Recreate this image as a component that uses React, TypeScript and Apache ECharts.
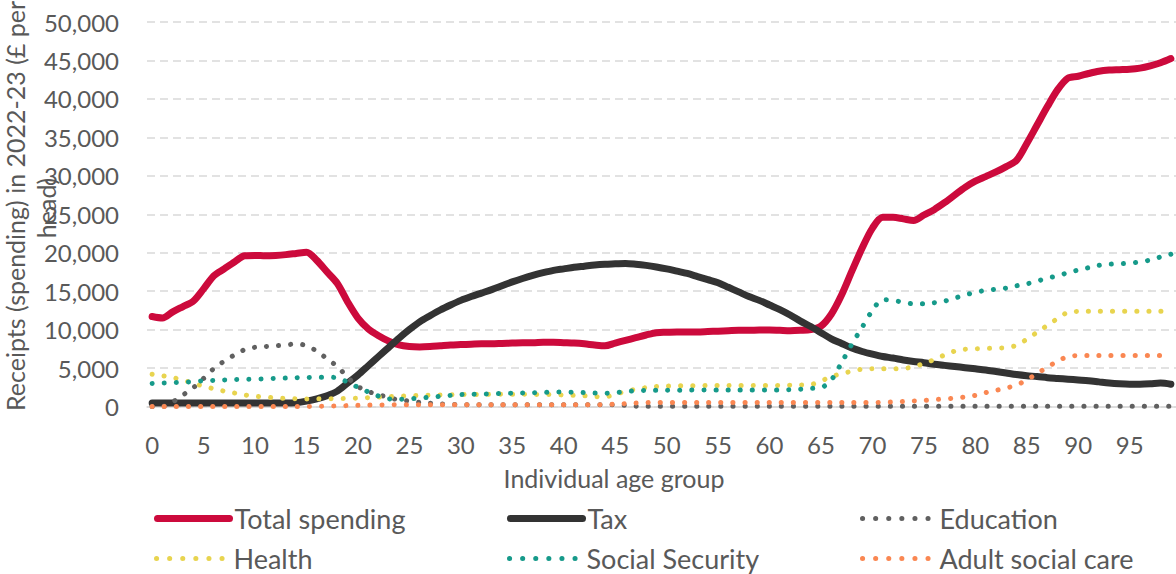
import React, { useEffect, useRef } from "react";
import * as echarts from "echarts";

// Ages 0..99, one category per single year of age
const ages: string[] = Array.from({ length: 100 }, (_, i) => String(i));

const totalSpending = [
  11700, 11500, 12300, 13000, 13700, 15300, 17000, 17900, 18800, 19600,
  19650, 19600, 19650, 19750, 19900, 20050, 19000, 17500, 16000, 13600,
  11500, 10100, 9200, 8500, 8000, 7800, 7750, 7800, 7900, 8000,
  8050, 8100, 8150, 8150, 8200, 8250, 8300, 8300, 8350, 8350,
  8300, 8250, 8150, 8000, 7900, 8250, 8600, 8950, 9300, 9600,
  9650, 9700, 9700, 9700, 9750, 9800, 9850, 9900, 9900, 9950,
  9950, 9900, 9850, 9900, 10000, 10450, 12000, 14500, 17600, 20600,
  23200, 24600, 24600, 24400, 24200, 24900, 25600, 26500, 27500, 28500,
  29300, 29900, 30500, 31200, 32000, 34200, 36600, 39000, 41200, 42700,
  42950, 43300, 43600, 43750, 43800, 43850, 44000, 44300, 44700, 45250,
];

const tax = [
  450, 450, 450, 450, 450, 450, 450, 450, 450, 450,
  450, 450, 450, 450, 500, 700, 1000, 1400, 2000, 3050,
  4100, 5300, 6500, 7700, 8900, 10000, 11000, 11800, 12550, 13200,
  13800, 14300, 14750, 15200, 15700, 16200, 16650, 17050, 17400, 17700,
  17900, 18100, 18250, 18400, 18500, 18550, 18600, 18500, 18350, 18150,
  17900, 17600, 17300, 16900, 16500, 16100, 15500, 14900, 14300, 13800,
  13200, 12600, 11900, 11100, 10400, 9600, 8800, 8200, 7600, 7150,
  6800, 6500, 6300, 6050, 5850, 5700, 5500, 5350, 5200, 5050,
  4900, 4750, 4550, 4350, 4150, 4000, 3900, 3750, 3650, 3550,
  3450, 3350, 3200, 3050, 2950, 2900, 2900, 2950, 3050, 2900,
];

const education = [
  0, 0, 600, 1500, 2450, 3650, 4950, 5900, 6700, 7400,
  7700, 7800, 7900, 8000, 8150, 7900, 7200, 6200, 5200, 3800,
  2600, 1950, 1550, 1150, 850, 700, 550, 420, 330, 280,
  230, 230, 230, 230, 230, 230, 230, 230, 230, 230,
  230, 230, 230, 230, 230, 200, 150, 50, 30, 30,
  30, 30, 30, 30, 30, 30, 30, 30, 30, 30,
  30, 30, 30, 30, 30, 30, 30, 30, 30, 30,
  30, 30, 30, 30, 30, 30, 30, 30, 30, 30,
  30, 30, 30, 30, 30, 30, 30, 30, 30, 30,
  30, 30, 30, 30, 30, 30, 30, 30, 30, 30,
];

const health = [
  4200, 4000, 3750, 3450, 3000, 2650, 2300, 2000, 1750, 1500,
  1320, 1230, 1100, 1050, 1000, 980, 990, 1010, 1020, 1040,
  1080, 1150, 1220, 1280, 1330, 1390, 1430, 1470, 1500, 1520,
  1550, 1560, 1570, 1580, 1590, 1590, 1590, 1580, 1560, 1540,
  1500, 1450, 1400, 1300, 1250, 1600, 1950, 2250, 2450, 2600,
  2650, 2700, 2700, 2700, 2720, 2720, 2720, 2730, 2730, 2740,
  2740, 2750, 2780, 2800, 2850, 3300, 3900, 4250, 4600, 4850,
  4900, 4900, 4900, 4950, 5150, 5600, 6100, 6700, 7200, 7450,
  7500, 7550, 7600, 7650, 7950, 8750, 9650, 10550, 11450, 12250,
  12370, 12370, 12370, 12370, 12370, 12370, 12370, 12370, 12370, 12370,
];

const socialSecurity = [
  3000, 3050, 3100, 3150, 3250, 3350, 3400, 3450, 3500, 3530,
  3560, 3600, 3650, 3700, 3750, 3780, 3800, 3800, 3750, 3150,
  2500, 1900, 1350, 1000, 940, 1000, 1100, 1200, 1330, 1450,
  1550, 1600, 1620, 1650, 1700, 1720, 1750, 1780, 1820, 1870,
  1880, 1850, 1800, 1750, 1720, 1800, 1930, 2050, 2100, 2100,
  2100, 2120, 2130, 2140, 2150, 2150, 2150, 2150, 2150, 2150,
  2150, 2150, 2180, 2250, 2350, 2450, 3450, 5700, 8100, 10300,
  12500, 13900, 13800, 13550, 13350, 13350, 13500, 13700, 14100, 14500,
  14850, 15100, 15250, 15400, 15700, 15950, 16300, 16700, 17000, 17400,
  17750, 18050, 18350, 18500, 18550, 18650, 18800, 19050, 19450, 19800,
];

const adultSocialCare = [
  0, 0, 0, 0, 0, 0, 0, 0, 0, 0,
  0, 0, 0, 0, 0, 0, 20, 50, 80, 120,
  150, 180, 200, 220, 230, 230, 230, 230, 230, 230,
  230, 230, 230, 230, 230, 230, 230, 230, 230, 230,
  230, 230, 230, 230, 250, 300, 380, 450, 500, 520,
  520, 520, 520, 520, 520, 520, 520, 520, 520, 520,
  520, 520, 520, 520, 520, 520, 520, 520, 520, 520,
  520, 550, 590, 650, 720, 790, 900, 980, 1100, 1250,
  1450, 1800, 2100, 2400, 2800, 3450, 4300, 5100, 5900, 6500,
  6620, 6620, 6620, 6620, 6620, 6620, 6620, 6620, 6620, 6620,
];

const yTicks = { min: 0, max: 50000, interval: 5000 };

const FONT = "Lato, 'Open Sans', sans-serif";
const TEXT = "#595959";

type Line = {
  name: string;
  data: number[];
  color: string;
  dotted: boolean;
};

const lines: Line[] = [
  { name: "Total spending", data: totalSpending, color: "#CC0A3C", dotted: false },
  { name: "Tax", data: tax, color: "#333333", dotted: false },
  { name: "Education", data: education, color: "#606060", dotted: true },
  { name: "Health", data: health, color: "#E8D44F", dotted: true },
  { name: "Social Security", data: socialSecurity, color: "#169A8A", dotted: true },
  { name: "Adult social care", data: adultSocialCare, color: "#FA8752", dotted: true },
];

const legendSpots = [
  { left: 154, top: 505 },
  { left: 507, top: 505 },
  { left: 860, top: 505 },
  { left: 154, top: 545 },
  { left: 507, top: 545 },
  { left: 860, top: 545 },
];

function lineStyleFor(l: Line, gap = 12) {
  return l.dotted
    ? { color: l.color, width: 5, type: [0.1, gap], cap: "round" as const }
    : { color: l.color, width: 7, type: "solid" as const, cap: "round" as const, join: "round" as const };
}

export default function App() {
  const ref = useRef<HTMLDivElement>(null);

  useEffect(() => {
    if (!ref.current) return;
    const chart = echarts.init(ref.current, undefined, { renderer: "svg" });

    const option: echarts.EChartsCoreOption = {
      animation: false,
      backgroundColor: "#ffffff",
      grid: { left: 147, right: 0, top: 22, bottom: 167.5, containLabel: false },
      xAxis: {
        type: "category",
        data: ages,
        boundaryGap: true,
        axisTick: { show: false },
        axisLine: { lineStyle: { color: "#D9D9D9", width: 1.5 } },
        axisLabel: {
          interval: 4,
          margin: 26,
          color: TEXT,
          fontSize: 24,
          fontFamily: FONT,
        },
        splitLine: { show: false },
      },
      yAxis: {
        type: "value",
        min: yTicks.min,
        max: yTicks.max,
        interval: yTicks.interval,
        axisLine: { show: false },
        axisTick: { show: false },
        axisLabel: {
          margin: 28,
          color: TEXT,
          fontSize: 24,
          fontFamily: FONT,
          formatter: (v: number) => v.toLocaleString("en-US"),
        },
        splitLine: {
          lineStyle: { color: "#D9D9D9", width: 1.5, type: [8, 5] },
        },
      },
      legend: lines.map((l, i) => ({
        data: [l.name],
        left: legendSpots[i].left,
        top: legendSpots[i].top,
        orient: "horizontal",
        padding: 0,
        itemWidth: 72,
        itemHeight: 14,
        itemGap: 0,
        selectedMode: false,
        itemStyle: { opacity: 0, color: "transparent", borderWidth: 0 },
        lineStyle: lineStyleFor(l, 13),
        textStyle: {
          color: TEXT,
          fontSize: 27,
          lineHeight: 27,
          fontFamily: FONT,
          padding: [0, 0, 0, 0],
        },
      })),
      graphic: [
        {
          type: "text",
          x: 15,
          y: 206,
          rotation: Math.PI / 2,
          style: {
            text: "Receipts (spending) in 2022-23 (£ per",
            fill: TEXT,
            font: `25px ${FONT}`,
            textAlign: "center",
            textVerticalAlign: "middle",
          },
        },
        {
          type: "text",
          x: 46,
          y: 208,
          rotation: Math.PI / 2,
          style: {
            text: "head)",
            fill: TEXT,
            font: `25px ${FONT}`,
            textAlign: "center",
            textVerticalAlign: "middle",
          },
        },
        {
          type: "text",
          x: 614,
          y: 478,
          style: {
            text: "Individual age group",
            fill: TEXT,
            font: `25px ${FONT}`,
            textAlign: "center",
            textVerticalAlign: "middle",
          },
        },
      ],
      series: lines.map((l) => ({
        name: l.name,
        type: "line",
        data: l.data,
        smooth: 0.3,
        symbol: "none",
        showSymbol: false,
        lineStyle: lineStyleFor(l),
        itemStyle: { color: l.color },
        emphasis: { disabled: true },
      })),
    };

    chart.setOption(option);
    return () => chart.dispose();
  }, []);

  return (
    <div
      ref={ref}
      style={{ position: "absolute", left: 0, top: 0, width: 1176, height: 574 }}
    />
  );
}
